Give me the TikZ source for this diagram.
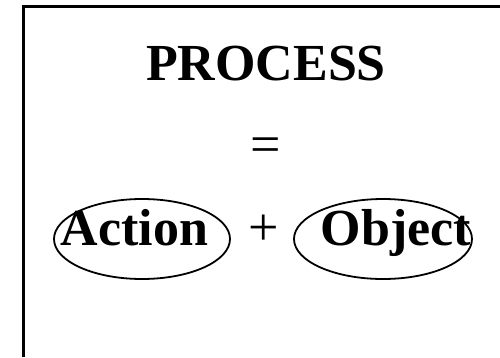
\documentclass[tikz,border=0pt]{standalone}
\usepackage{fontspec}
\setmainfont{Liberation Serif}
\begin{document}
\begin{tikzpicture}[x=1pt,y=1pt,
  bigb/.style={inner sep=0pt,anchor=base,font=\fontsize{52}{60}\selectfont\bfseries},
  bigr/.style={inner sep=0pt,anchor=base,font=\fontsize{54}{60}\selectfont},
  ring/.style={draw=black,line width=1.8pt}]
\useasboundingbox (0,0) rectangle (500,357);
\fill[white] (0,0) rectangle (500,357);
\coordinate (bl) at (23,0);
\coordinate (tl) at (23,350);
\coordinate (tr) at (500,350);
\draw[line width=3pt] (bl) -- (tl) -- (tr);
\node[bigb] (title) at (266,277) {PROCESS};
\node[bigr] (eq) at (265.5,195) {=};
\node[bigr] (plus) at (264,112) {+};
\node[bigb] (action) at (134.5,112) {Action};
\node[bigb] (object) at (396,112) {Object};
\draw[ring] (142,118) ellipse [x radius=88, y radius=40];
\draw[ring] (383,118) ellipse [x radius=89, y radius=40];
\end{tikzpicture}
\end{document}
